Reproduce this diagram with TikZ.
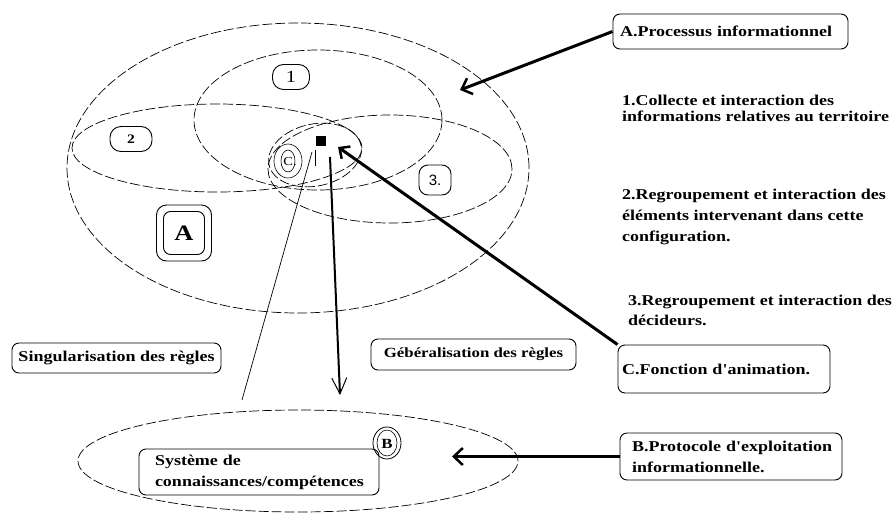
\documentclass[tikz,border=0pt]{standalone}
\usepackage{fontspec}
\setmainfont{Liberation Serif}[FakeStretch=1.2]
\newfontfamily\lblf{Liberation Serif}[FakeStretch=1.2]
\newfontfamily\sanslbl{Liberation Sans}
\usetikzlibrary{arrows.meta}
\begin{document}
\begin{tikzpicture}[x=1pt,y=-1pt,
  ell/.style={draw, line width=0.7pt, dash pattern=on 10pt off 3pt},
  rbox/.style={draw, line width=0.9pt, rounded corners=7pt, inner sep=0pt},
  bodytxt/.style={font=\lblf\fontsize{15}{21}\selectfont\bfseries, align=left},
  txt/.style={bodytxt, inner sep=0pt, anchor=west},
  fat/.style={line width=3pt, -{Straight Barb[length=9pt,width=17pt,line width=2.5pt]}},
  thinln/.style={line width=0.7pt},
]
\useasboundingbox (0,0) rectangle (894,514);

% ellipses
\draw[ell] (298,168) ellipse [x radius=231pt, y radius=145pt];
\draw[ell] (318,120) ellipse [x radius=124pt, y radius=70pt];
\draw[ell] (217,148) ellipse [x radius=145pt, y radius=44pt];
\draw[ell] (390,169) ellipse [x radius=122pt, y radius=54pt];
\draw[ell, rotate around={12:(315,155)}] (315,155) ellipse [x radius=47pt, y radius=31pt];
\draw[ell] (298,461) ellipse [x radius=220pt, y radius=51pt];

% small labels
\node[rbox, rounded corners=11pt, minimum width=37pt, minimum height=25pt, font=\lblf\fontsize{17}{17}\selectfont] (l1) at (291,77) {1};
\node[rbox, rounded corners=11pt, minimum width=42pt, minimum height=25pt, font=\lblf\fontsize{13}{13}\selectfont\bfseries] (l2) at (131,139) {2};
\node[rbox, rounded corners=9pt, minimum width=32pt, minimum height=30pt, font=\sanslbl\fontsize{15}{15}\selectfont] (l3) at (435,180) {3.};
\node[rbox, minimum width=41pt, minimum height=43pt, font=\lblf\fontsize{22}{22}\selectfont\bfseries] (lA) at (184,233) {A};
\node[rbox, rounded corners=10pt, minimum width=55pt, minimum height=56pt] (lAo) at (184,233) {};

\draw[line width=0.6pt] (288,161) ellipse [x radius=14pt, y radius=17pt];
\draw[line width=0.6pt] (288,161) ellipse [x radius=7pt, y radius=11pt];
\node[font=\lblf\fontsize{12}{12}\selectfont, inner sep=0pt] (lC) at (290,162) {C.};

\draw[line width=0.8pt] (387,443) ellipse [x radius=14pt, y radius=16pt];
\draw[line width=0.6pt] (387,443) ellipse [x radius=10pt, y radius=13pt];
\node[font=\lblf\fontsize{14}{14}\selectfont\bfseries, inner sep=0pt] (lB) at (387,444) {B};

% black square
\node[fill, minimum size=10pt, inner sep=0pt] (sq) at (321,141) {};

% thin lines
\coordinate (thinA) at (312,152);
\coordinate (thinB) at (242,400);
\coordinate (tickA) at (315,150);
\coordinate (tickB) at (315,166);
\draw[thinln] (thinA) -- (thinB);
\draw[thinln] (tickA) -- (tickB);

% vertical arrow
\coordinate (vs) at (330,157);
\coordinate (ve) at (340,395);
\draw[line width=2pt, -{Straight Barb[length=16pt,width=15pt,line width=1pt]}] (vs) -- (ve);

% boxes
\node[rbox, bodytxt, inner xsep=7pt, text width=221pt, minimum height=35pt] (proc) at (730.5,31.5) {\mbox{A.Processus informationnel}};
\node[rbox, bodytxt, inner xsep=4pt, text width=204pt, minimum height=48pt] (fonc) at (724,369) {\mbox{C.Fonction d'animation.}};
\node[rbox, bodytxt, inner xsep=12pt, text width=198pt, minimum height=47pt] (prot) at (731,456.5) {\mbox{B.Protocole d'exploitation}\\\mbox{informationnelle.}};
\node[rbox, bodytxt, minimum width=209pt, minimum height=30pt] (sing) at (116.5,358) {Singularisation des règles};
\node[rbox, bodytxt, font=\lblf\fontsize{14}{17}\selectfont\bfseries, minimum width=205pt, minimum height=31pt] (gen) at (473.5,354.5) {Gébéralisation des règles};
\node[rbox, bodytxt, inner xsep=16pt, text width=208pt, minimum height=46pt] (sys) at (259,472) {\mbox{Système de}\\\mbox{connaissances/compétences}};

% right texts
\node[txt, font=\lblf\fontsize{15}{16}\selectfont\bfseries] (t1) at (622,108) {1.Collecte et interaction des\\informations relatives au territoire};
\node[txt] (t2) at (622,217) {2.Regroupement et interaction des\\éléments intervenant dans cette\\configuration.};
\node[txt, font=\lblf\fontsize{15}{20}\selectfont\bfseries] (t3) at (628,310) {3.Regroupement et interaction des\\décideurs.};

% arrows
\coordinate (pA) at (460,90);
\coordinate (pC) at (338,147);
\coordinate (pB) at (452,456.5);
\draw[fat] (proc.west) -- (pA);
\draw[fat, -{Straight Barb[length=8pt,width=15pt,line width=2.5pt]}] (fonc.north west) -- (pC);
\draw[fat] (prot.west) -- (pB);
\end{tikzpicture}
\end{document}
